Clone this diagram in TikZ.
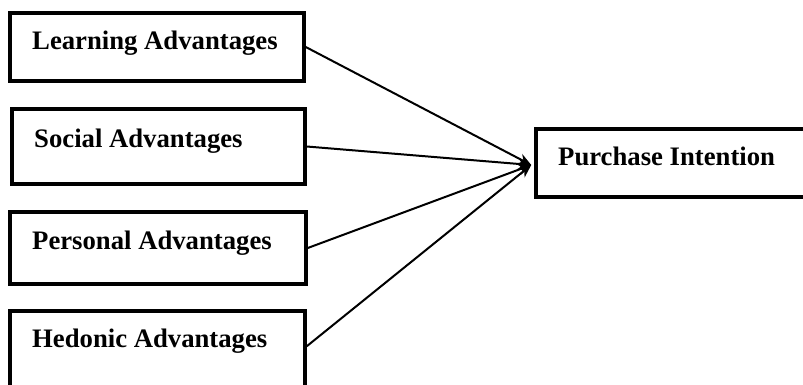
\documentclass[tikz,border=0pt]{standalone}
\usepackage{fontspec}
\setmainfont{Liberation Serif}
\usetikzlibrary{arrows.meta,calc}
\begin{document}
\begin{tikzpicture}[x=1pt,y=-1pt,
  box/.style={draw=black,line width=3.5pt,rectangle,inner sep=0pt},
  lbl/.style={font=\fontsize{26.7}{30}\selectfont\bfseries,inner sep=0pt,anchor=base west},
  conn/.style={draw=black,line width=2pt,-{Stealth[length=13pt,width=11pt]}}]
  \useasboundingbox (0,0) rectangle (803,385);
  \clip (0,0) rectangle (803,385);
  % factor boxes on the left
  \node[box,minimum width=294pt,minimum height=68pt] (learn) at (157,47) {};
  \node[box,minimum width=293pt,minimum height=75pt] (social) at (158.5,146.5) {};
  \node[box,minimum width=296pt,minimum height=72pt] (pers) at (158,248) {};
  \node[box,minimum width=295pt,minimum height=79pt] (hed) at (157.5,350.5) {};
  % outcome box on the right
  \node[box,minimum width=279pt,minimum height=68pt] (pur) at (675.5,163) {};
  % labels
  \node[lbl] (learnT) at (32,50) {Learning Advantages};
  \node[lbl] (socialT) at (34,147) {Social Advantages};
  \node[lbl] (persT) at (32,249) {Personal Advantages};
  \node[lbl] (hedT) at (32,347) {Hedonic Advantages};
  \node[lbl] (purT) at (558,165) {Purchase Intention};
  % connectors
  \coordinate (hub) at ($(pur.west)+(-3,2)$);
  \coordinate (hedOut) at ($(hed.north east)+(0,37)$);
  \draw[conn] (learn.east) -- (hub);
  \draw[conn] (social.east) -- (hub);
  \draw[conn] (pers.east) -- (hub);
  \draw[conn] (hedOut) -- (hub);
\end{tikzpicture}
\end{document}
